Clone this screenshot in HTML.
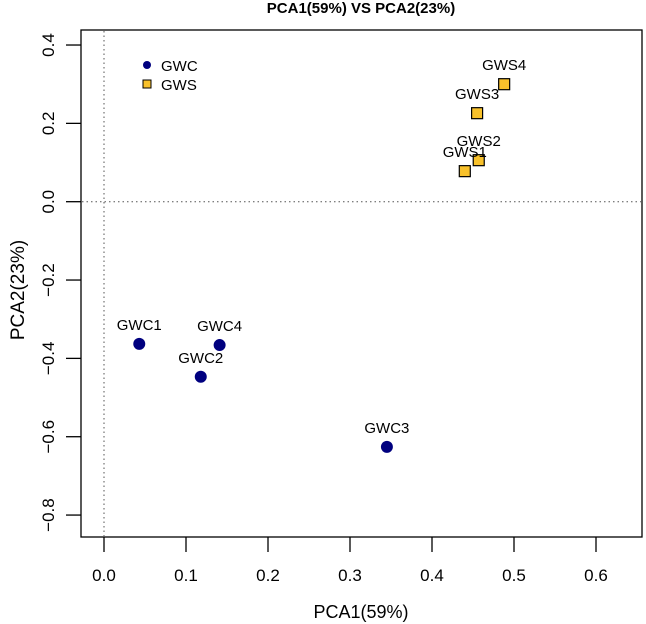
<!DOCTYPE html>
<html><head><meta charset="utf-8"><style>
html,body{margin:0;padding:0;background:#fff;}
svg{display:block;font-family:"Liberation Sans",Arial,sans-serif;}
</style></head><body>
<svg id="chart" width="646" height="624">
<text x="361" y="13" text-anchor="middle" font-weight="bold" font-size="15">PCA1(59%) VS PCA2(23%)</text>
<rect x="81" y="30" width="561" height="507" fill="none" stroke="#000" stroke-width="1.3"/>
<g id="axes"></g>
<g id="marks"></g>
<text x="361" y="618" text-anchor="middle" font-size="18">PCA1(59%)</text>
<text transform="translate(24,290) rotate(-90)" text-anchor="middle" font-size="19">PCA2(23%)</text>
<g>
<circle cx="147" cy="65" r="4" fill="#00007f"/>
<text x="161" y="71" font-size="15">GWC</text>
<rect x="143" y="80" width="8" height="8" fill="#f8c12b" stroke="#000"/>
<text x="161" y="90" font-size="15">GWS</text>
</g>
</svg>
<script>
const xTicks = [0.0, 0.1, 0.2, 0.3, 0.4, 0.5, 0.6];
const yTicks = [0.4, 0.2, 0.0, -0.2, -0.4, -0.6, -0.8];
const gwcNames = ["GWC1", "GWC4", "GWC2", "GWC3"];
const gwcX = [0.043, 0.141, 0.118, 0.345];
const gwcY = [-0.363, -0.366, -0.447, -0.626];
const gwsNames = ["GWS4", "GWS3", "GWS2", "GWS1"];
const gwsX = [0.488, 0.455, 0.457, 0.440];
const gwsY = [0.300, 0.226, 0.106, 0.078];

const NS = "http://www.w3.org/2000/svg";
function sx(v){ return 104 + v * 820; }
function sy(v){ return 201.7 - v * 391.7; }
function mk(tag, attrs, parent){ const e = document.createElementNS(NS, tag); for (const k in attrs) e.setAttribute(k, attrs[k]); parent.appendChild(e); return e; }
const axes = document.getElementById("axes");
const marks = document.getElementById("marks");

let zl = mk("line", {x1: sx(0), x2: sx(0), y1: 31, y2: 536, stroke: "#555", "stroke-dasharray": "1.5,3"}, axes);


let zh = mk("line", {x1: 82, x2: 641, y1: sy(0), y2: sy(0), stroke: "#555", "stroke-dasharray": "1.5,3"}, axes);



xTicks.forEach(t => {
  const l = mk("line", {x1: sx(t), x2: sx(t), y1: 537, y2: 552, stroke: "#000", "stroke-width": 1.3}, axes);
  
  
  const tx = mk("text", {x: sx(t), y: 581, "text-anchor": "middle", "font-size": 17}, axes);
  tx.textContent = t.toFixed(1);
  
  
});
yTicks.forEach(t => {
  const l = mk("line", {x1: 66, x2: 81, y1: sy(t), y2: sy(t), stroke: "#000", "stroke-width": 1.3}, axes);
  
  
  const tx = mk("text", {transform: "translate(54," + sy(t) + ") rotate(-90)", "text-anchor": "middle", "font-size": 17}, axes);
  tx.textContent = t.toFixed(1).replace("-", "\u2212");
  
  
});
gwcNames.forEach((n, i) => {
  const c = mk("circle", {cx: sx(gwcX[i]), cy: sy(gwcY[i]), r: 6, fill: "#00007f"}, marks);
  
  
  const t = mk("text", {x: sx(gwcX[i]), y: sy(gwcY[i]) - 14, "text-anchor": "middle", "font-size": 15}, marks);
  t.textContent = n;
  
  
});
gwsNames.forEach((n, i) => {
  const r = mk("rect", {x: sx(gwsX[i]) - 5.5, y: sy(gwsY[i]) - 5.5, width: 11, height: 11, fill: "#f8c12b", stroke: "#000", "stroke-width": 1.2}, marks);
  
  
  const t = mk("text", {x: sx(gwsX[i]), y: sy(gwsY[i]) - 14, "text-anchor": "middle", "font-size": 15}, marks);
  t.textContent = n;
  
  
});
</script>
</body></html>
